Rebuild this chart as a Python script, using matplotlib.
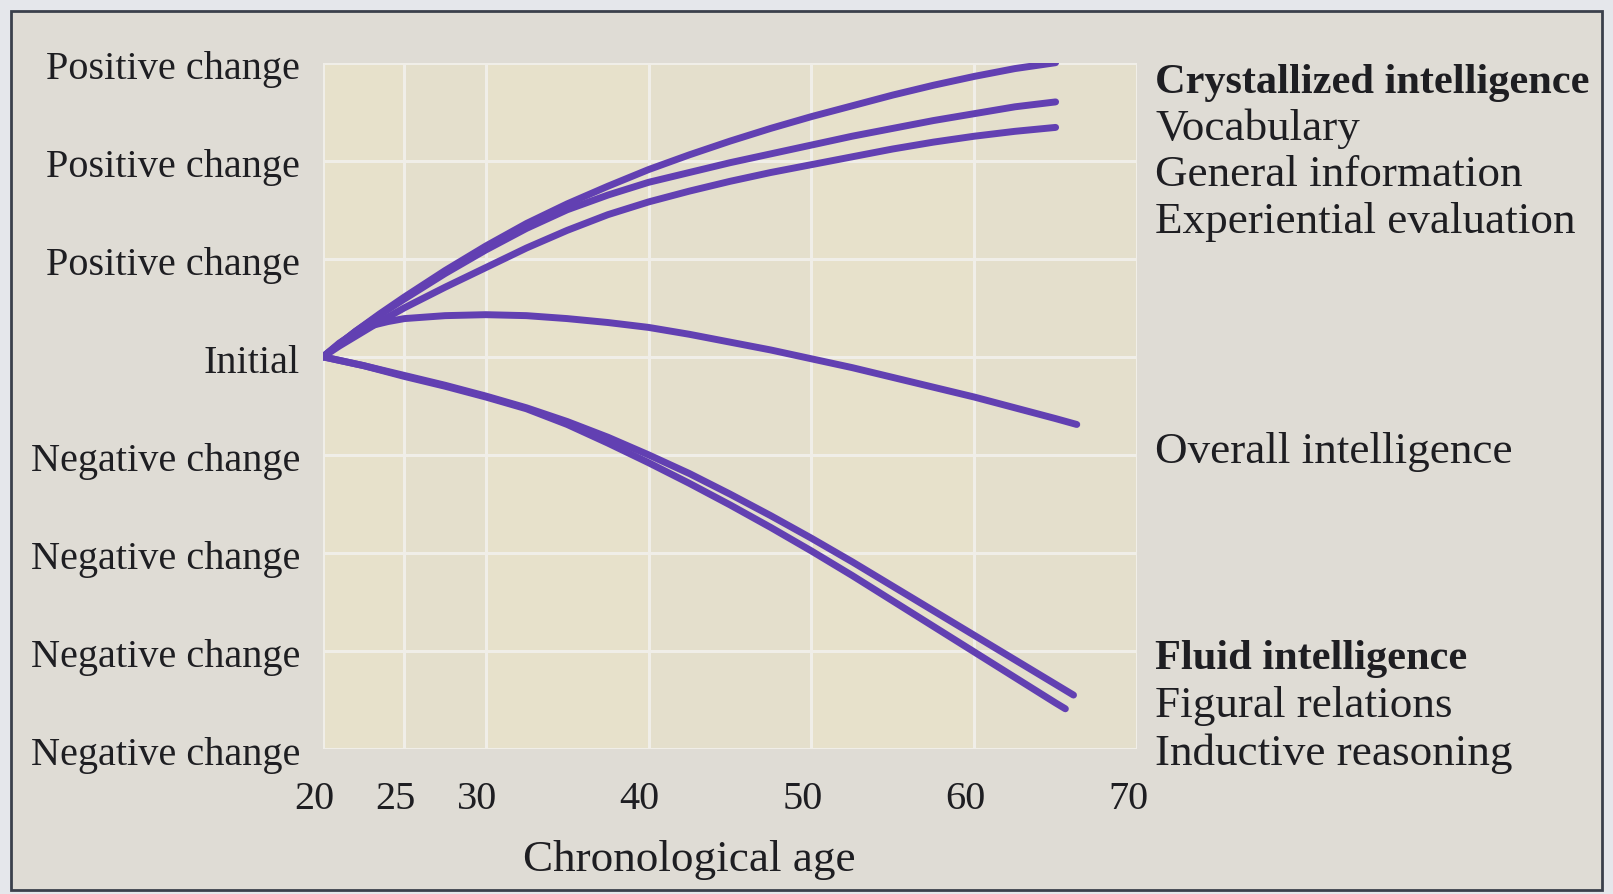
import matplotlib
matplotlib.use("Agg")
import matplotlib.pyplot as plt
from matplotlib.patches import Rectangle
from matplotlib.transforms import ScaledTranslation

# ---------------- data ----------------
ages_cryst = [20, 21, 22, 23.5, 25, 27.5, 30, 32.5, 35, 37.5, 40, 42.5, 45, 47.5, 50, 52.5, 55, 57.5, 60, 62.5, 65]
crystallized = [0, 0.13, 0.26, 0.44, 0.61, 0.88, 1.13, 1.36, 1.56, 1.74, 1.91, 2.06, 2.20, 2.33, 2.45, 2.56, 2.67, 2.77, 2.86, 2.94, 3.00]
vocabulary = [0, 0.13, 0.26, 0.43, 0.59, 0.85, 1.09, 1.31, 1.50, 1.65, 1.78, 1.88, 1.98, 2.07, 2.16, 2.25, 2.33, 2.41, 2.48, 2.55, 2.60]
general_info = [0, 0.11, 0.21, 0.36, 0.50, 0.71, 0.91, 1.11, 1.29, 1.45, 1.58, 1.69, 1.79, 1.88, 1.96, 2.04, 2.12, 2.19, 2.25, 2.30, 2.34]

ages_overall = [20, 21, 22, 23, 24, 25, 27.5, 30, 32.5, 35, 37.5, 40, 42.5, 45, 47.5, 50, 52.5, 55, 57.5, 60, 62.5, 65, 66.3]
overall = [0, 0.14, 0.25, 0.32, 0.36, 0.39, 0.42, 0.43, 0.42, 0.39, 0.35, 0.30, 0.23, 0.15, 0.07, -0.02, -0.11, -0.21, -0.31, -0.41, -0.52, -0.63, -0.69]

ages_fluid_a = [20, 22.5, 25, 27.5, 30, 32.5, 35, 37.5, 40, 42.5, 45, 47.5, 50, 52.5, 55, 57.5, 60, 62.5, 65, 66.1]
fluid_a = [0, -0.09, -0.19, -0.29, -0.40, -0.52, -0.66, -0.82, -1.00, -1.19, -1.40, -1.62, -1.85, -2.09, -2.34, -2.59, -2.84, -3.09, -3.34, -3.45]
ages_fluid_b = [20, 22.5, 25, 27.5, 30, 32.5, 35, 37.5, 40, 42.5, 45, 47.5, 50, 52.5, 55, 57.5, 60, 62.5, 65, 65.6]
fluid_b = [0, -0.09, -0.20, -0.30, -0.41, -0.53, -0.69, -0.88, -1.08, -1.29, -1.51, -1.74, -1.98, -2.23, -2.49, -2.75, -3.01, -3.27, -3.53, -3.59]

band_edges = [20, 25, 30, 40, 50, 60, 70]
x_ticks = [20, 25, 30, 40, 50, 60, 70]
y_levels = [3, 2, 1, 0, -1, -2, -3, -4]
y_labels = ["Positive change", "Positive change", "Positive change", "Initial",
            "Negative change", "Negative change", "Negative change", "Negative change"]
x_label = "Chronological age"

right_labels = ["Crystallized intelligence", "Vocabulary", "General information",
                "Experiential evaluation", "Overall intelligence",
                "Fluid intelligence", "Figural relations", "Inductive reasoning"]
right_bold = [True, False, False, False, False, True, False, False]

# ---------------- layout / style ----------------
W, H = 1613, 894
right_label_ypx = [83, 129, 175, 222, 452, 659, 706, 754]
LINE = "#6240b2"
TXT = "#1e1e22"
FONT = "Liberation Serif"

fig = plt.figure(figsize=(W / 100, H / 100), dpi=100)
fig.patch.set_facecolor("#e5e7eb")

# page frame (the printed box)
fig.patches.append(Rectangle((11 / W, 1 - 890 / H), (1602 - 11) / W, (890 - 11) / H,
                             transform=fig.transFigure, facecolor="#dfdcd5",
                             edgecolor="#3b404c", linewidth=2.0, zorder=-5))

ax_l, ax_r, ax_t, ax_b = 323, 1137, 62.7, 749
ax = fig.add_axes([ax_l / W, 1 - ax_b / H, (ax_r - ax_l) / W, (ax_b - ax_t) / H])
ax.set_zorder(1)
ax.set_xlim(20, 70)
ax.set_ylim(-4, 3)
ax.patch.set_alpha(0)
for s in ax.spines.values():
    s.set_visible(False)

band_cols = ["#e7e1cb", "#e4dfcc", "#e7e1cb", "#e4dfcc", "#e7e1cb", "#e4dfcc"]
for i in range(len(band_edges) - 1):
    ax.axvspan(band_edges[i], band_edges[i + 1], color=band_cols[i], zorder=0.5, lw=0)
for e in band_edges:
    ax.axvline(e, color="#f0eee8", lw=2.2, zorder=0.8)
for v in y_levels:
    ax.axhline(v, color="#f0eee8", lw=2.2, zorder=0.8)

kw = dict(color=LINE, lw=5, solid_capstyle="round", solid_joinstyle="round", zorder=3)
ax.plot(ages_cryst, crystallized, **kw)
ax.plot(ages_cryst, vocabulary, **kw)
ax.plot(ages_cryst, general_info, **kw)
ax.plot(ages_overall, overall, **kw)
ax.plot(ages_fluid_a, fluid_a, **kw)
ax.plot(ages_fluid_b, fluid_b, **kw)

ax.set_yticks(y_levels)
ax.set_yticklabels(y_labels, fontfamily=FONT, fontsize=29, color=TXT)
ax.set_xticks(x_ticks)
ax.set_xticklabels([str(t) for t in x_ticks], fontfamily=FONT, fontsize=29, color=TXT)
ax.tick_params(axis="y", length=0, pad=16.5)
ax.tick_params(axis="x", length=0, pad=23)
for lab in ax.get_xticklabels():
    lab.set_transform(lab.get_transform() + ScaledTranslation(-9 / 100, 0, fig.dpi_scale_trans))
for lab in ax.get_yticklabels():
    lab.set_transform(lab.get_transform() + ScaledTranslation(0, -2 / 100, fig.dpi_scale_trans))

fig.text(689 / W, 1 - 860 / H, x_label, ha="center", va="center",
         fontfamily=FONT, fontsize=32.5, color=TXT)

for lab, ypx, b in zip(right_labels, right_label_ypx, right_bold):
    fig.text(1155 / W, 1 - ypx / H, lab, ha="left", va="center",
             fontfamily=FONT, fontsize=30.5 if b else 32.5,
             fontweight="bold" if b else "normal", color=TXT)

fig.savefig("out.png", dpi=100, facecolor=fig.get_facecolor())
